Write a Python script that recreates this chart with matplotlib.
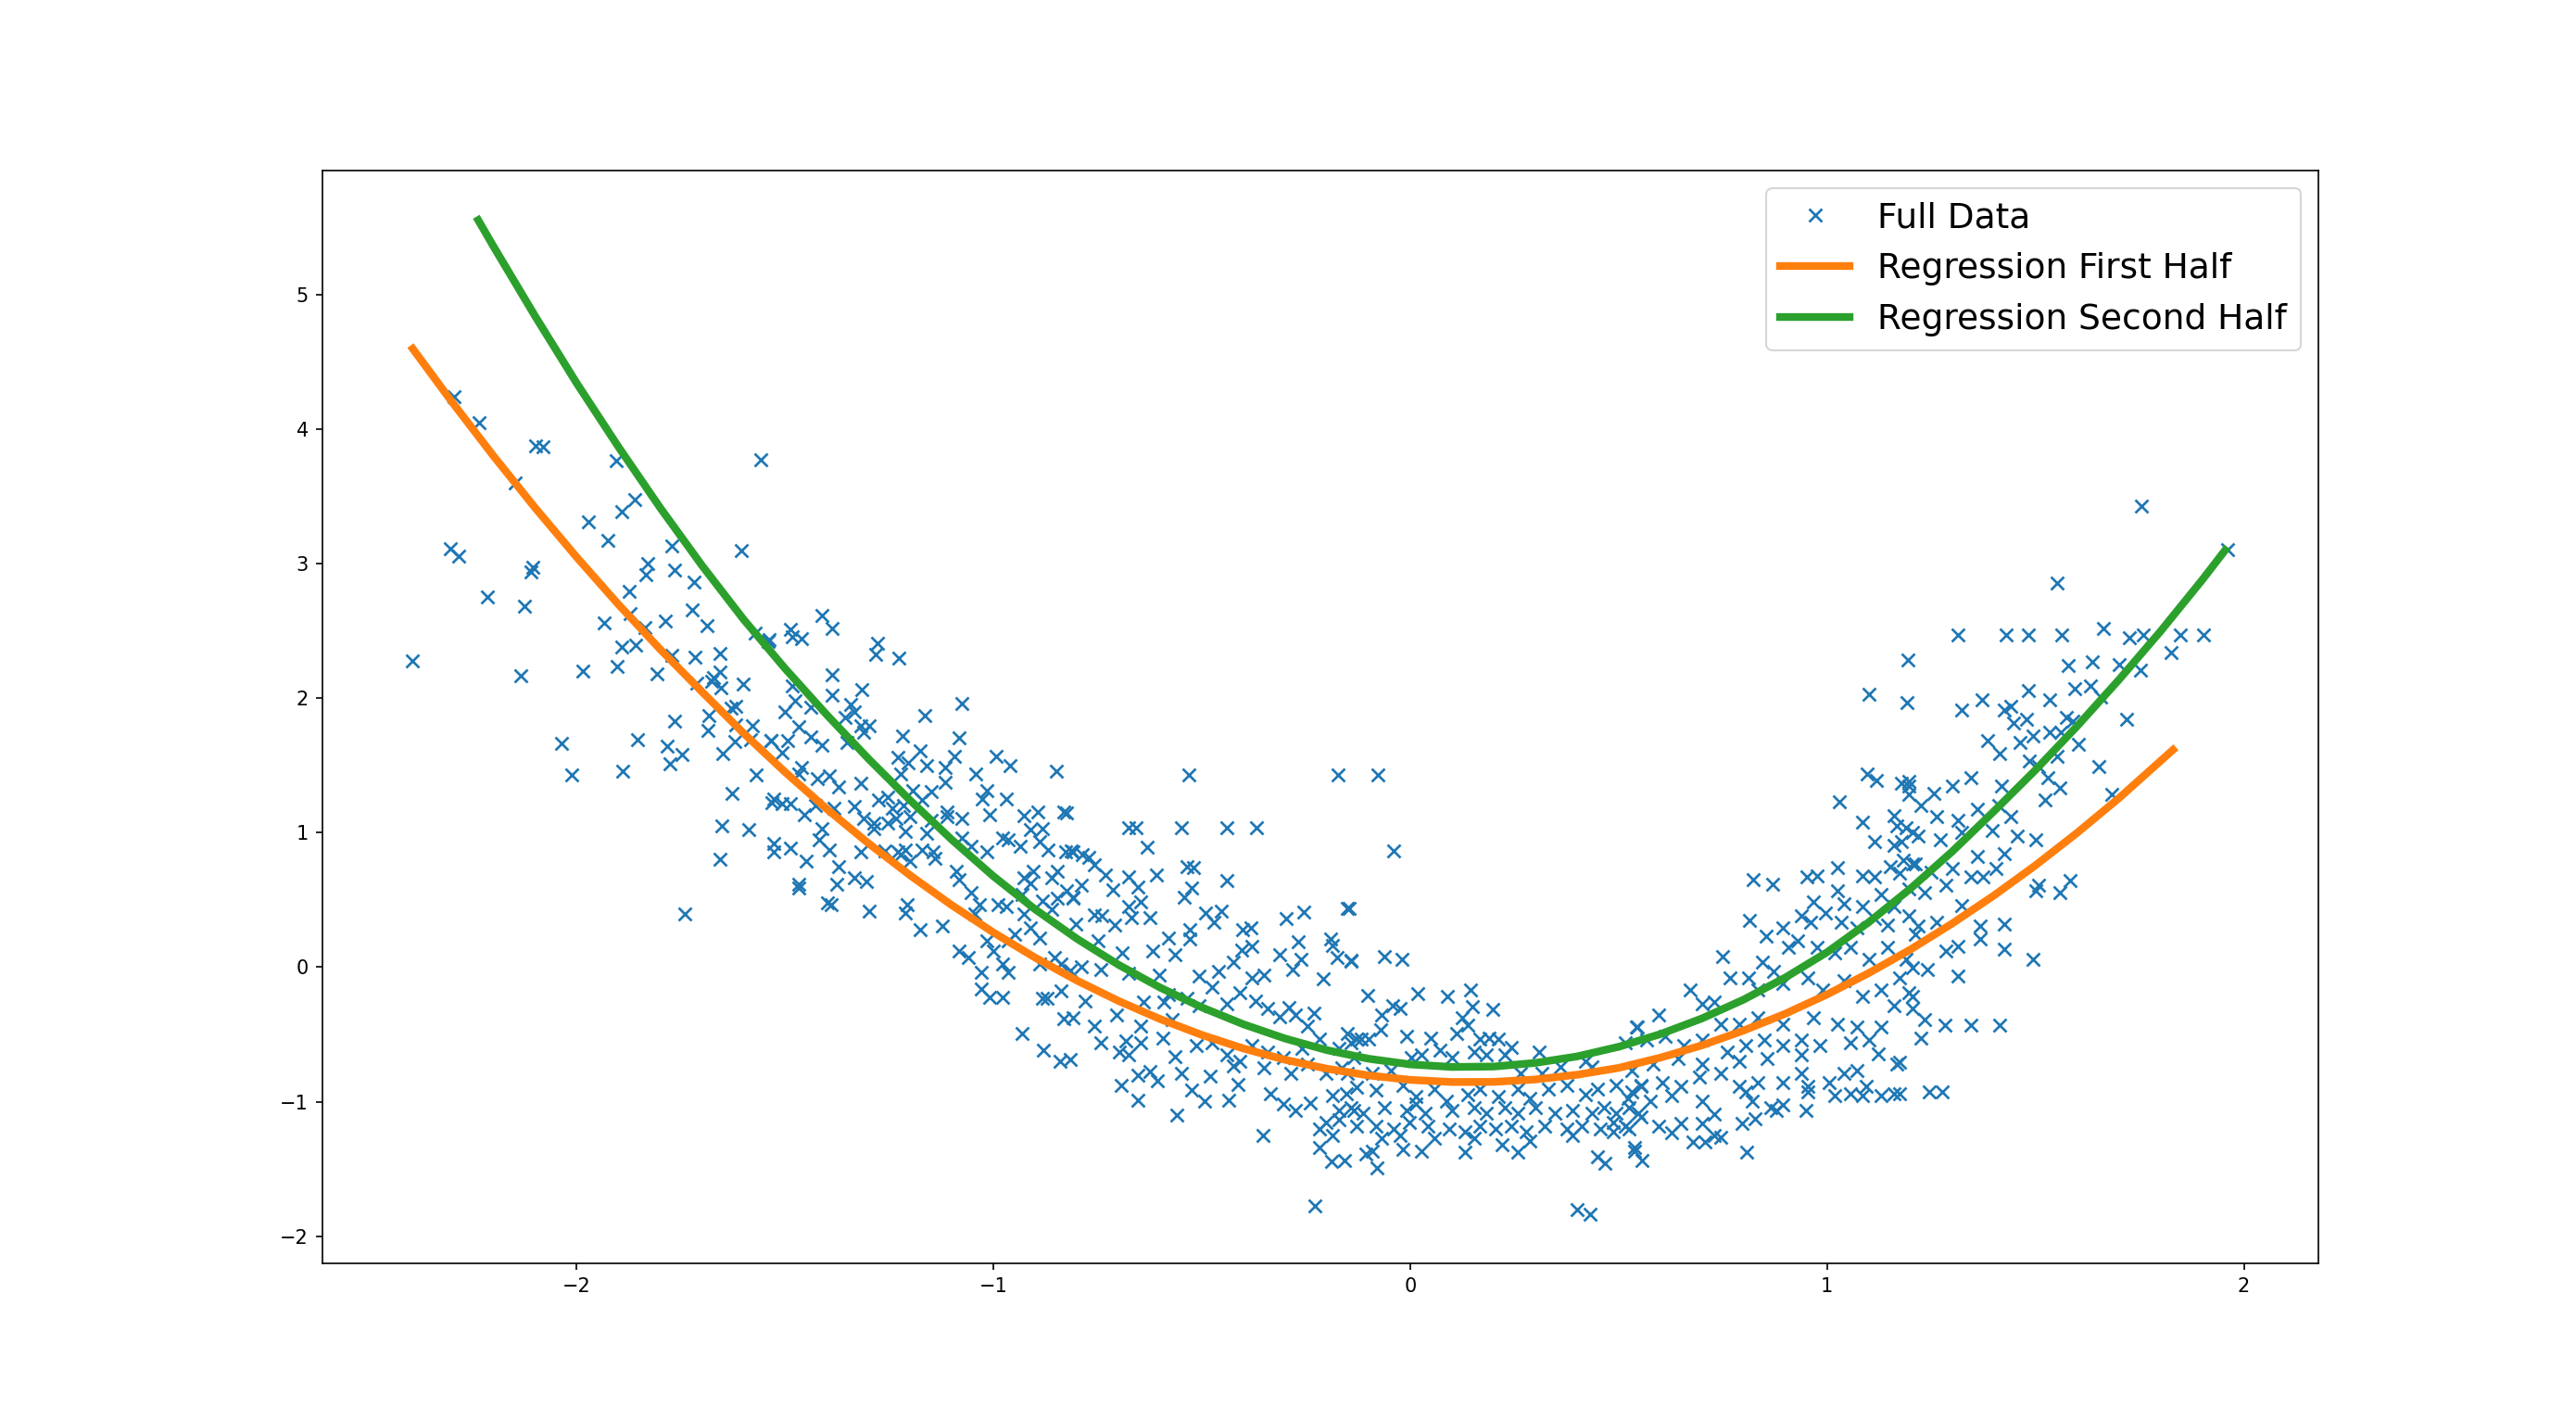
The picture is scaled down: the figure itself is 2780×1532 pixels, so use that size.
import matplotlib
matplotlib.use("Agg")
import matplotlib.pyplot as plt

# scatter data (x, y)
left_x = [-2.293, -2.234, -2.098, -2.080, -1.904, -1.558, -2.148, -1.860, -1.891, -1.972, -1.926, -1.772,
          -1.605, -2.302, -2.283, -2.104, -2.110, -1.830, -1.834, -1.765, -1.719, -1.873, -2.215, -2.124,
          -1.723, -1.871, -1.934, -1.786, -1.836, -1.686, -1.571, -1.540, -1.891, -1.858, -2.393, -2.134,
          -1.986, -1.903, -1.808, -1.772, -1.715, -1.655, -1.656, -1.675, -1.671, -1.712, -1.653, -1.601,
          -1.682, -1.630, -1.619, -1.764, -1.685, -1.618, -1.578, -1.534, -1.582, -1.620, -2.037, -1.854,
          -1.782, -1.748, -1.776, -1.650, -2.012, -1.890, -1.570, -1.627, -1.532, -1.652, -1.587, -1.656,
          -1.740]
left_y = [4.238, 4.050, 3.875, 3.870, 3.767, 3.770, 3.600, 3.476, 3.388, 3.308, 3.175, 3.129,
          3.094, 3.110, 3.053, 2.970, 2.940, 3.003, 2.918, 2.950, 2.860, 2.791, 2.750, 2.681,
          2.654, 2.630, 2.557, 2.571, 2.528, 2.540, 2.481, 2.424, 2.378, 2.397, 2.280, 2.165,
          2.202, 2.236, 2.183, 2.321, 2.306, 2.334, 2.196, 2.126, 2.150, 2.115, 2.080, 2.107,
          1.873, 1.924, 1.942, 1.827, 1.758, 1.804, 1.793, 1.685, 1.690, 1.680, 1.662, 1.694,
          1.644, 1.580, 1.510, 1.586, 1.426, 1.459, 1.426, 1.295, 1.226, 1.047, 1.024, 0.801,
          0.393]

branch_x = [-1.412, -1.387, -1.486, -1.482, -1.460, -1.538, -1.279, -1.283, -1.227, -1.387, -1.482, -1.387,
            -1.316, -1.075, -1.475, -1.501, -1.438, -1.342, -1.334, -1.356, -1.164, -1.467, -1.319, -1.297,
            -1.312, -1.219, -1.082, -1.534, -1.494, -1.438, -1.412, -1.352, -1.508, -1.230, -1.175, -1.094,
            -0.994, -0.961, -0.850, -1.160, -1.205, -1.116, -1.116, -1.043, -1.460, -1.467, -1.423, -1.393,
            -1.319, -1.371, -1.223, -1.016, -1.027, -0.968, -1.527, -1.508, -1.486, -1.427, -1.382, -1.334,
            -1.275, -1.253, -1.193, -1.149, -1.242, -1.216, -1.171, -1.112, -1.075, -1.008, -0.927, -0.894,
            -0.831, -1.453, -1.312, -1.286, -1.234, -1.201, -1.149, -1.112, -1.412, -1.286, -1.253, -1.212,
            -1.160, -1.075, -1.053, -1.016, -0.979, -0.964, -0.935, -0.912, -0.883, -0.890, -0.868, -0.827,
            -0.809, -1.527, -1.527, -1.486, -1.419, -1.393, -1.449, -1.371, -1.319, -1.260, -1.230, -1.212,
            -1.201, -1.171, -1.145, -1.141, -1.223, -1.334, -1.304, -1.375, -1.467, -1.467, -1.397, -1.390,
            -1.297, -1.208, -1.212, -1.175, -1.123, -1.090, -1.082, -1.053, -1.034, -1.045, -0.990, -0.968,
            -0.931, -0.912, -0.927, -0.905, -0.861, -0.846, -0.824, -0.809, -0.883, -0.861, -0.846, -0.927,
            -0.912, -0.890, -0.949, -0.964, -1.016, -1.001, -1.082, -1.060, -1.030, -0.979, -0.964, -0.853,
            -0.838, -0.890, -0.816, -1.030, -1.008, -0.979, -0.883, -0.872, -0.838, -0.831, -0.931, -0.880,
            -0.840]
branch_y = [2.618, 2.520, 2.508, 2.459, 2.439, 2.434, 2.410, 2.324, 2.299, 2.171, 2.090, 2.023,
            2.065, 1.959, 1.979, 1.898, 1.930, 1.953, 1.898, 1.856, 1.868, 1.790, 1.795, 1.795,
            1.745, 1.716, 1.705, 1.684, 1.684, 1.709, 1.647, 1.669, 1.598, 1.561, 1.609, 1.568,
            1.568, 1.499, 1.457, 1.499, 1.520, 1.487, 1.377, 1.438, 1.487, 1.438, 1.401, 1.424,
            1.364, 1.340, 1.438, 1.315, 1.253, 1.249, 1.253, 1.216, 1.216, 1.204, 1.180, 1.192,
            1.241, 1.266, 1.315, 1.303, 1.180, 1.204, 1.241, 1.155, 1.106, 1.130, 1.124, 1.155,
            1.155, 1.130, 1.106, 1.069, 1.106, 1.118, 1.094, 1.118, 1.032, 1.032, 1.069, 1.008,
            0.996, 0.958, 0.897, 0.860, 0.958, 0.946, 0.897, 1.020, 1.032, 0.934, 0.872, 0.860,
            0.860, 0.921, 0.860, 0.885, 0.946, 0.872, 0.786, 0.749, 0.860, 0.865, 0.860, 0.872,
            0.786, 0.872, 0.860, 0.811, 0.835, 0.663, 0.639, 0.614, 0.614, 0.590, 0.479, 0.467,
            0.417, 0.467, 0.405, 0.282, 0.306, 0.712, 0.651, 0.552, 0.467, 0.393, 0.467, 0.454,
            0.540, 0.626, 0.663, 0.712, 0.663, 0.712, 0.565, 0.516, 0.491, 0.430, 0.516, 0.393,
            0.294, 0.220, 0.245, 0.196, 0.196, 0.122, 0.122, 0.073, -0.038, 0.023, -0.038, 0.073,
            0.023, 0.023, -0.026, -0.161, -0.222, -0.222, -0.234, -0.234, -0.173, -0.382, -0.493, -0.620,
            -0.700]

center_x = [-0.531, -0.173, -0.824, -0.676, -0.657, -0.548, -0.440, -0.369, -0.631, -0.813, -0.787, -0.772,
            -0.757, -0.535, -0.520, -0.609, -0.731, -0.676, -0.439, -0.790, -0.713, -0.653, -0.524, -0.542,
            -0.809, -0.676, -0.646, -0.491, -0.453, -0.472, -0.298, -0.255, -0.151, -0.757, -0.739, -0.668,
            -0.624, -0.802, -0.709, -0.402, -0.383, -0.528, -0.528, -0.579, -0.380, -0.405, -0.269, -0.191,
            -0.187, -0.313, -0.262, -0.176, -0.143, -0.691, -0.617, -0.565, -0.750, -0.790, -0.742, -0.676,
            -0.602, -0.506, -0.461, -0.424, -0.380, -0.350, -0.283, -0.209, -0.409, -0.476, -0.579, -0.639,
            -0.780, -0.809, -0.705, -0.757, -0.591, -0.535, -0.506, -0.439, -0.372, -0.342, -0.290, -0.231,
            -0.246, -0.276, -0.313, -0.646, -0.572, -0.742, -0.683, -0.646, -0.594, -0.565, -0.513, -0.476,
            -0.439, -0.409, -0.380, -0.342, -0.305, -0.261, -0.217, -0.172, -0.143, -0.128, -0.816, -0.698,
            -0.676, -0.653, -0.624, -0.606, -0.550, -0.479, -0.424, -0.413, -0.350, -0.287, -0.246, -0.202,
            -0.165, -0.136, -0.694, -0.653, -0.524, -0.494, -0.435, -0.561, -0.335, -0.305, -0.276, -0.239,
            -0.187, -0.172, -0.153, -0.136, -0.202, -0.172, -0.217, -0.187, -0.354, -0.217, -0.229, -0.189,
            -0.078]
center_y = [1.426, 1.426, 1.150, 1.035, 1.035, 1.035, 1.035, 1.035, 0.891, 0.863, 0.840, 0.817,
            0.760, 0.745, 0.737, 0.684, 0.684, 0.668, 0.645, 0.610, 0.576, 0.599, 0.588, 0.519,
            0.519, 0.450, 0.484, 0.400, 0.416, 0.335, 0.363, 0.409, 0.439, 0.392, 0.381, 0.369,
            0.369, 0.323, 0.312, 0.278, 0.289, 0.278, 0.209, 0.220, 0.156, 0.128, 0.186, 0.209,
            0.163, 0.094, 0.059, 0.071, 0.042, 0.105, 0.117, 0.094, 0.197, 0.002, -0.021, -0.044,
            -0.056, -0.067, -0.033, 0.036, -0.079, -0.056, -0.021, -0.090, -0.193, -0.147, -0.205, -0.262,
            -0.251, -0.377, -0.354, -0.435, -0.262, -0.228, -0.285, -0.274, -0.251, -0.308, -0.297, -0.343,
            -0.435, -0.354, -0.366, -0.435, -0.389, -0.560, -0.549, -0.560, -0.526, -0.664, -0.583, -0.560,
            -0.653, -0.698, -0.583, -0.629, -0.675, -0.606, -0.537, -0.606, -0.560, -0.537, -0.687, -0.629,
            -0.652, -0.802, -0.779, -0.848, -0.790, -0.813, -0.733, -0.871, -0.745, -0.790, -0.721, -0.790,
            -0.745, -0.675, -0.882, -0.986, -0.917, -0.997, -0.986, -1.101, -0.940, -1.020, -1.066, -1.009,
            -0.952, -1.066, -0.940, -1.066, -1.158, -1.135, -1.204, -1.250, -1.250, -1.342, -1.777, -1.446,
            1.430]

bottom_x = [-0.039, -0.147, -0.143, -0.063, -0.019, -0.102, 0.018, 0.090, 0.144, 0.150, 0.198, -0.069,
            -0.043, -0.025, 0.124, 0.138, 0.112, -0.072, -0.009, 0.050, -0.150, -0.117, -0.099, 0.168,
            0.190, 0.212, 0.242, 0.309, 0.542, 0.420, 0.435, 0.027, 0.072, 0.101, 0.153, 0.183,
            0.227, 0.264, 0.316, 0.360, -0.091, -0.047, 0.002, -0.150, -0.128, -0.083, -0.017, 0.013,
            0.057, 0.087, 0.138, 0.168, 0.212, 0.257, 0.286, 0.331, 0.375, 0.420, 0.449, 0.494,
            0.531, 0.553, -0.143, -0.113, -0.061, -0.009, 0.013, 0.035, 0.101, 0.153, 0.183, 0.227,
            0.257, 0.301, 0.346, 0.390, 0.435, 0.464, 0.494, 0.524, 0.546, -0.128, -0.083, -0.039,
            -0.001, 0.042, 0.094, 0.131, 0.168, 0.205, 0.242, 0.279, 0.323, 0.375, 0.412, 0.457,
            0.486, 0.524, -0.069, -0.025, 0.057, 0.153, 0.220, 0.286, 0.390, 0.486, -0.106, -0.091,
            -0.017, 0.027, 0.131, 0.257, 0.449, 0.468, 0.538, -0.079, -0.158, 0.401, 0.431]
bottom_y = [0.863, 0.439, 0.049, 0.080, 0.055, -0.212, -0.200, -0.216, -0.170, -0.296, -0.312, -0.354,
            -0.285, -0.308, -0.377, -0.434, -0.491, -0.469, -0.514, -0.526, -0.491, -0.537, -0.537, -0.537,
            -0.526, -0.537, -0.595, -0.629, -0.445, -0.698, -0.744, -0.652, -0.618, -0.675, -0.629, -0.652,
            -0.652, -0.790, -0.790, -0.744, -0.790, -0.767, -0.675, -0.790, -0.893, -0.916, -0.882, -0.962,
            -0.905, -0.997, -0.951, -0.905, -0.962, -0.905, -0.974, -0.905, -0.882, -0.951, -0.905, -0.882,
            -0.928, -0.882, -1.043, -1.089, -1.043, -1.066, -1.020, -1.089, -1.066, -1.043, -1.089, -1.043,
            -1.089, -1.043, -1.089, -1.066, -1.089, -1.043, -1.089, -1.043, -1.089, -1.181, -1.181, -1.204,
            -1.158, -1.181, -1.204, -1.227, -1.181, -1.204, -1.181, -1.227, -1.181, -1.204, -1.181, -1.204,
            -1.158, -1.204, -1.273, -1.250, -1.273, -1.273, -1.319, -1.296, -1.250, -1.227, -1.388, -1.365,
            -1.354, -1.365, -1.376, -1.376, -1.411, -1.457, -1.365, -1.491, -1.434, -1.801, -1.836]

rise_x = [1.097, 1.119, 1.178, 1.197, 1.197, 1.030, 1.160, 1.086, 1.167, 1.204, 1.115, 1.160,
          1.178, 0.823, 0.869, 0.951, 0.975, 1.024, 1.086, 1.115, 1.152, 1.175, 1.204, 1.026,
          0.967, 1.041, 1.086, 1.130, 1.160, 0.814, 0.853, 0.894, 0.938, 0.960, 0.997, 1.034,
          1.071, 1.115, 1.145, 1.197, 0.749, 0.767, 0.845, 0.908, 0.930, 0.975, 1.019, 1.056,
          1.101, 1.145, 1.189, 1.211, 0.671, 0.701, 0.730, 0.812, 0.871, 0.834, 0.894, 0.953,
          0.990, 1.041, 1.086, 1.130, 1.175, 1.204, 0.597, 0.545, 0.745, 0.789, 0.834, 0.894,
          0.967, 1.026, 1.071, 1.130, 1.160, 0.516, 0.568, 0.612, 0.657, 0.701, 0.760, 0.805,
          0.849, 0.894, 0.938, 0.982, 1.056, 1.101, 1.123, 0.938, 0.857, 0.790, 0.701, 0.642,
          0.582, 0.531, 1.167, 0.938, 0.953, 1.004, 1.041, 1.071, 1.093, 1.019, 1.056, 1.086,
          1.130, 1.160, 1.175, 0.894, 0.834, 0.790, 0.745, 0.693, 0.649, 0.605, 0.553, 0.523,
          0.575, 0.627, 0.701, 0.730, 0.805, 0.820, 0.864, 0.894, 0.953, 0.949, 0.797, 0.827,
          0.879, 0.553, 0.597, 0.627, 0.649, 0.701, 0.730, 0.679, 0.708, 0.745, 0.538, 0.556,
          0.808, 0.516, 1.100]
rise_y = [1.437, 1.391, 1.368, 1.345, 1.288, 1.230, 1.127, 1.081, 1.047, 1.001, 0.932, 0.909,
          0.932, 0.650, 0.615, 0.668, 0.680, 0.737, 0.680, 0.668, 0.748, 0.702, 0.771, 0.565,
          0.485, 0.473, 0.450, 0.542, 0.450, 0.346, 0.232, 0.289, 0.381, 0.335, 0.404, 0.335,
          0.289, 0.358, 0.312, 0.381, 0.078, -0.078, 0.036, 0.151, 0.197, 0.151, 0.105, 0.151,
          0.059, 0.151, 0.059, 0.243, -0.170, -0.273, -0.262, -0.078, -0.033, -0.170, -0.124, -0.078,
          -0.170, -0.101, -0.216, -0.170, -0.078, -0.216, -0.354, -0.446, -0.423, -0.423, -0.377, -0.423,
          -0.377, -0.423, -0.446, -0.446, -0.285, -0.561, -0.538, -0.515, -0.584, -0.538, -0.630, -0.584,
          -0.538, -0.584, -0.538, -0.584, -0.561, -0.538, -0.642, -0.653, -0.676, -0.699, -0.722, -0.676,
          -0.722, -0.768, -0.722, -0.791, -0.883, -0.860, -0.791, -0.768, -0.883, -0.952, -0.940, -0.952,
          -0.952, -0.940, -0.940, -0.860, -0.860, -0.883, -0.791, -0.814, -0.883, -0.860, -0.883, -0.975,
          -0.998, -0.952, -0.998, -1.090, -0.929, -0.998, -1.044, -1.021, -0.929, -1.067, -1.159, -1.125,
          -1.067, -1.113, -1.182, -1.228, -1.159, -1.159, -1.251, -1.297, -1.297, -1.263, -1.343, -1.435,
          -1.376, -1.182, 2.030]

right_x = [1.755, 1.552, 1.315, 1.430, 1.484, 1.563, 1.663, 1.726, 1.759, 1.847, 1.904, 1.826,
           1.961, 1.195, 1.578, 1.637, 1.700, 1.752, 1.191, 1.323, 1.371, 1.484, 1.593, 1.632,
           1.534, 1.426, 1.441, 1.718, 1.656, 1.574, 1.589, 1.448, 1.478, 1.385, 1.415, 1.463,
           1.493, 1.534, 1.560, 1.604, 1.485, 1.507, 1.552, 1.652, 1.530, 1.559, 1.522, 1.682,
           1.196, 1.300, 1.345, 1.419, 1.256, 1.360, 1.411, 1.441, 1.226, 1.263, 1.315, 1.189,
           1.219, 1.271, 1.323, 1.397, 1.456, 1.500, 1.360, 1.426, 1.182, 1.212, 1.249, 1.300,
           1.345, 1.375, 1.404, 1.500, 1.507, 1.559, 1.582, 1.197, 1.234, 1.286, 1.323, 1.263,
           1.219, 1.367, 1.426, 1.367, 1.426, 1.493, 1.315, 1.286, 1.241, 1.315, 1.204, 1.197,
           1.204, 1.234, 1.282, 1.344, 1.415, 1.226, 1.244, 1.277, 1.174]
right_y = [3.425, 2.856, 2.472, 2.472, 2.472, 2.472, 2.518, 2.450, 2.472, 2.472, 2.472, 2.339,
           3.102, 2.287, 2.241, 2.273, 2.249, 2.210, 1.970, 1.909, 1.990, 2.056, 2.072, 2.093,
           1.987, 1.915, 1.936, 1.842, 2.010, 1.857, 1.827, 1.814, 1.842, 1.681, 1.589, 1.672,
           1.718, 1.749, 1.749, 1.659, 1.534, 1.488, 1.565, 1.488, 1.411, 1.330, 1.240, 1.286,
           1.380, 1.350, 1.411, 1.350, 1.290, 1.175, 1.205, 1.120, 1.205, 1.120, 1.091, 1.034,
           0.976, 0.948, 1.005, 1.019, 0.976, 0.948, 0.826, 0.843, 0.795, 0.766, 0.704, 0.735,
           0.673, 0.673, 0.735, 0.565, 0.611, 0.551, 0.643, 0.580, 0.551, 0.611, 0.458, 0.335,
           0.305, 0.305, 0.320, 0.213, 0.134, 0.058, 0.152, 0.121, -0.019, -0.064, -0.004, -0.188,
           -0.306, -0.388, -0.434, -0.434, -0.434, -0.528, -0.928, -0.928, -0.710]

# regression curves
first_x = [-2.393, -2.3, -2.2, -2.1, -2.0, -1.9, -1.8, -1.7, -1.6, -1.5, -1.4, -1.3, -1.2, -1.1, -1.0,
           -0.9, -0.8, -0.7, -0.6, -0.5, -0.4, -0.3, -0.2, -0.1, 0.0, 0.1, 0.2, 0.3, 0.4, 0.5, 0.6,
           0.7, 0.8, 0.9, 1.0, 1.1, 1.2, 1.3, 1.4, 1.5, 1.6, 1.7, 1.83]
first_y = [4.598, 4.207, 3.803, 3.417, 3.049, 2.698, 2.365, 2.050, 1.741, 1.451, 1.177, 0.921, 0.683,
           0.461, 0.258, 0.071, -0.099, -0.251, -0.386, -0.504, -0.605, -0.689, -0.755, -0.805, -0.838,
           -0.854, -0.853, -0.835, -0.800, -0.749, -0.673, -0.581, -0.471, -0.346, -0.203, -0.044,
           0.131, 0.324, 0.532, 0.757, 0.999, 1.256, 1.616]
second_x = [-2.236, -2.2, -2.1, -2.0, -1.9, -1.8, -1.7, -1.6, -1.5, -1.4, -1.3, -1.2, -1.1, -1.0, -0.9,
            -0.8, -0.7, -0.6, -0.5, -0.4, -0.3, -0.2, -0.1, 0.0, 0.1, 0.2, 0.3, 0.4, 0.5, 0.6, 0.7,
            0.8, 0.9, 1.0, 1.1, 1.2, 1.3, 1.4, 1.5, 1.6, 1.7, 1.8, 1.9, 1.955]
second_y = [5.554, 5.362, 4.843, 4.343, 3.870, 3.418, 2.990, 2.588, 2.221, 1.877, 1.550, 1.241, 0.948,
            0.676, 0.430, 0.212, 0.018, -0.152, -0.299, -0.425, -0.531, -0.617, -0.681, -0.723, -0.742,
            -0.739, -0.712, -0.664, -0.592, -0.498, -0.381, -0.241, -0.077, 0.111, 0.334, 0.584, 0.859,
            1.158, 1.466, 1.792, 2.136, 2.497, 2.879, 3.100]

xs = left_x + branch_x + center_x + bottom_x + rise_x + right_x
ys = left_y + branch_y + center_y + bottom_y + rise_y + right_y

fig, ax = plt.subplots(figsize=(2780 / 150, 1532 / 150), dpi=150)
ax.plot(xs, ys, 'x', markersize=7, markeredgewidth=1.3, label='Full Data')
ax.plot(first_x, first_y, color='C1', linewidth=4, label='Regression First Half')
ax.plot(second_x, second_y, color='C2', linewidth=4, label='Regression Second Half')
ax.legend(fontsize=18, loc='upper right')

fig.savefig('out.png', dpi=150)
